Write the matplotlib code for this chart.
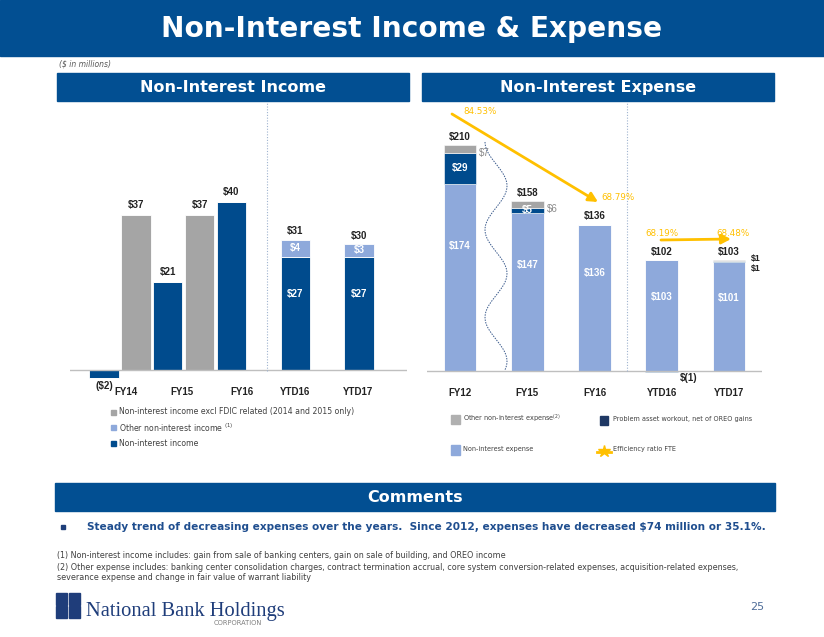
import numpy as np
import matplotlib
matplotlib.use("Agg")
import matplotlib.pyplot as plt
from matplotlib.patches import Rectangle

W, H = 824, 637

# ---- data: non-interest income ($ millions)
inc_cats = ["FY14", "FY15", "FY16", "YTD16", "YTD17"]
inc_main = [-2, 21, 40, 27, 27]                    # Non-interest income
inc_other = [0, 0, 0, 4, 3]                        # Other non-interest income (1)
inc_excl_fdic = [37, 37, np.nan, np.nan, np.nan]   # excl FDIC related (2014/2015)

# ---- data: non-interest expense ($ millions)
exp_cats = ["FY12", "FY15", "FY16", "YTD16", "YTD17"]
exp_base = [174, 147, 136, 103, 101]   # Non-interest expense
exp_problem = [29, 5, 0, -1, 1]        # Problem asset workout, net of OREO gains
exp_other = [7, 6, 0, 0, 1]            # Other non-interest expense (2)
exp_total = [210, 158, 136, 102, 103]
eff_ratio = [84.53, np.nan, 68.79, 68.19, 68.48]   # Efficiency ratio FTE (%)

BLUE = "#024F92"
DARK = "#004B8D"
LIGHT = "#8EA9DB"
GREY = "#A5A5A5"
GOLD = "#FFC000"
TXT = "#404040"

plt.rcParams["font.family"] = ["DejaVu Sans"]
fig = plt.figure(figsize=(W / 100, H / 100), dpi=100)


def px_box(x0, y0, x1, y1):
    return [x0 / W, 1 - y1 / H, (x1 - x0) / W, (y1 - y0) / H]


lab = dict(family="Liberation Sans", fontweight="bold", fontsize=7)

# ---------------- left chart
axl = fig.add_axes(px_box(70, 100, 407, 385))
axl.patch.set_alpha(0)
xl = np.arange(len(inc_cats))
bw = 0.46
main = np.array(inc_main)
other = np.array(inc_other)
axl.bar(xl, main, bw, color=DARK, edgecolor="white", linewidth=0.6)
axl.bar(xl, other, bw, bottom=main, color=LIGHT, edgecolor="white", linewidth=0.6)
axl.bar(xl + 0.5, inc_excl_fdic, bw, color=GREY, edgecolor="white", linewidth=0.6)
for i in range(len(inc_cats)):
    if other[i] > 0:
        axl.annotate(f"${main[i] + other[i]}", (xl[i], main[i] + other[i]), xytext=(0, 2.5),
                     textcoords="offset points", ha="center", va="bottom", color="#222222", **lab)
        axl.text(xl[i], main[i] + other[i] / 2, f"${other[i]}", ha="center", va="center", color="white", **lab)
        axl.text(xl[i], main[i] * 0.67, f"${main[i]}", ha="center", va="center", color="white", **lab)
    elif main[i] < 0:
        axl.annotate(f"(${-main[i]})", (xl[i], main[i]), xytext=(0, -2),
                     textcoords="offset points", ha="center", va="top", color="#222222", **lab)
    else:
        axl.annotate(f"${main[i]}", (xl[i], main[i]), xytext=(0, 3.5),
                     textcoords="offset points", ha="center", va="bottom", color="#222222", **lab)
    if not np.isnan(inc_excl_fdic[i]):
        axl.annotate(f"${inc_excl_fdic[i]:.0f}", (xl[i] + 0.5, inc_excl_fdic[i]), xytext=(0, 3.5),
                     textcoords="offset points", ha="center", va="bottom", color="#222222", **lab)
axl.axhline(0, color="#BFBFBF", lw=1)
axl.axvline(2.56, ymin=0.05, ymax=0.99, color="#9FB3CF", lw=0.8, ls=(0, (1, 1.5)))
axl.set_xlim(-0.533, 4.753)
axl.set_ylim(-15 / 4.2, 270 / 4.2)
axl.set_xticks([0.35, 1.22, 2.16, 3.0, 3.98], inc_cats)
axl.tick_params(length=0, pad=1.5, labelcolor="#222222")
for t in axl.get_xticklabels():
    t.set_fontproperties(matplotlib.font_manager.FontProperties(family="Liberation Sans", weight="bold", size=7))
axl.set_yticks([])
for s in axl.spines.values():
    s.set_visible(False)

# ---------------- right chart
axr = fig.add_axes(px_box(427, 100, 762, 385))
axr.patch.set_alpha(0)
xr = np.arange(len(exp_cats))
bw = 0.49
base = np.array(exp_base)
prob = np.array(exp_problem)
oth = np.array(exp_other)
axr.bar(xr, base, bw, color=LIGHT, edgecolor="white", linewidth=0.6)
pb = np.where(prob >= 0, base, 0)
axr.bar(xr, prob, bw, bottom=pb, color=DARK, edgecolor="white", linewidth=0.4)
ob = base + np.maximum(prob, 0)
axr.bar(xr, oth, bw, bottom=ob, color=GREY, edgecolor="white", linewidth=0.4)
for i in range(len(exp_cats)):
    top = base[i] + max(prob[i], 0) + oth[i]
    axr.annotate(f"${exp_total[i]}", (xr[i], top), xytext=(0, 2.5),
                 textcoords="offset points", ha="center", va="bottom", color="#222222", **lab)
    axr.text(xr[i], base[i] * 0.67, f"${base[i]}", ha="center", va="center", color="white", **lab)
    if prob[i] >= 3:
        axr.text(xr[i], base[i] + prob[i] / 2, f"${prob[i]}", ha="center", va="center", color="white", **lab)
    if oth[i] >= 3:
        axr.annotate(f"${oth[i]}", (xr[i] + bw / 2, ob[i] + oth[i] / 2), xytext=(2, -3),
                     textcoords="offset points", ha="left", va="center", color="#8C8C8C",
                     family="Liberation Sans", fontsize=7)
small = dict(family="Liberation Sans", fontweight="bold", fontsize=6.3)
axr.annotate(f"${oth[4]}", (xr[4] + bw / 2, ob[4] + oth[4] / 2), xytext=(4, 1.5),
             textcoords="offset points", ha="left", va="center", color="#222222", **small)
axr.annotate(f"${prob[4]}", (xr[4] + bw / 2, pb[4] + prob[4] / 2), xytext=(4, -4.5),
             textcoords="offset points", ha="left", va="center", color="#222222", **small)
axr.annotate(f"$({-prob[3]})", (xr[3] + bw / 2, prob[3]), xytext=(1, -1),
             textcoords="offset points", ha="left", va="top", color="#222222", **lab)
axr.axhline(0, color="#BFBFBF", lw=1)
axr.axvline(2.48, ymin=0.05, ymax=0.99, color="#9FB3CF", lw=0.8, ls=(0, (1, 1.5)))
axr.set_xlim(-0.491, 4.491)
axr.set_ylim(-14 / 1.075, 271 / 1.075)
axr.set_xticks(xr, exp_cats)
axr.tick_params(length=0, pad=2.5, labelcolor="#222222")
for t in axr.get_xticklabels():
    t.set_fontproperties(matplotlib.font_manager.FontProperties(family="Liberation Sans", weight="bold", size=7))
axr.set_yticks([])
for s in axr.spines.values():
    s.set_visible(False)

# ---------------- overlay in pixel coordinates
ov = fig.add_axes([0, 0, 1, 1])
ov.set_xlim(0, W)
ov.set_ylim(H, 0)
ov.axis("off")
ov.patch.set_alpha(0)

ov.add_patch(Rectangle((0, 0), W, 56, color=BLUE))
ov.text(412, 29, "Non-Interest Income & Expense", color="white", fontsize=20.2,
        fontweight="bold", ha="center", va="center")
ov.text(59, 64, "($ in millions)", style="italic", fontsize=5.5, color="#595959", va="center")
for x0, x1, title in [(57, 409, "Non-Interest Income"), (422, 774, "Non-Interest Expense")]:
    ov.add_patch(Rectangle((x0, 73), x1 - x0, 28, color=BLUE))
    ov.text((x0 + x1) / 2, 87.5, title, color="white", fontsize=11.5, fontweight="bold",
            ha="center", va="center")

# efficiency ratio arrows
arrow = dict(arrowstyle="-|>,head_length=0.55,head_width=0.28", color=GOLD, lw=2, shrinkA=0, shrinkB=0)
ov.annotate("", xy=(598, 202), xytext=(452, 114), arrowprops=arrow)
ov.annotate("", xy=(731, 239), xytext=(661, 240), arrowprops=arrow)
eff_pos = {0: (463, 112), 2: (601, 197), 3: (645, 234), 4: (716, 233)}
for i, (x, y) in eff_pos.items():
    ov.text(x, y, f"{eff_ratio[i]:.2f}%", color=GOLD, fontsize=6.3, ha="left", va="center")

# wavy break line between FY12 and FY15
yy = np.linspace(142, 370, 200)
ov.plot(496 + 11 * np.sin((yy - 142) / 228 * 2.6 * 2 * np.pi - np.pi / 2), yy,
        color="#3A5A8C", lw=0.7, ls=(0, (1.5, 1.2)))

# left legend
for k, (c, t) in enumerate([(GREY, "Non-interest income excl FDIC related (2014 and 2015 only)"),
                            (LIGHT, "Other non-interest income $^{(1)}$"),
                            (DARK, "Non-interest income")]):
    y = 412 + 15.5 * k
    ov.add_patch(Rectangle((111, y - 2.5), 5, 5, color=c))
    ov.text(119, y, t, fontsize=5.6, color=TXT, va="center")

# right legend
ov.add_patch(Rectangle((451, 415), 9, 9, color="#B0B0B0"))
ov.text(463, 418.5, "Other non-interest expense$^{(2)}$", fontsize=4.7, color=TXT, va="center")
ov.add_patch(Rectangle((600, 416), 8, 9, color="#1F3864"))
ov.text(613, 419, "Problem asset workout, net of OREO gains", fontsize=4.7, color=TXT, va="center")
ov.add_patch(Rectangle((451, 445), 9, 10, color=LIGHT))
ov.text(463, 449.5, "Non-interest expense", fontsize=4.7, color=TXT, va="center")
ov.plot([597, 611], [452, 452], color=GOLD, lw=2)
ov.plot([604], [451], marker="*", ms=9, color=GOLD)
ov.text(613, 449.5, "Efficiency ratio FTE", fontsize=4.7, color=TXT, va="center")

# comments
ov.add_patch(Rectangle((55, 483), 720, 28, color=BLUE))
ov.text(415, 497, "Comments", color="white", fontsize=11.5, fontweight="bold", ha="center", va="center")
ov.add_patch(Rectangle((61, 524.5), 4, 4, color="#1F3E7A"))
ov.text(87, 527, "Steady trend of decreasing expenses over the years.  Since 2012, expenses have "
        "decreased $74 million or 35.1%.", fontsize=7.55, fontweight="bold", color="#1F4E8F", va="center")
ov.text(57, 556, "(1) Non-interest income includes: gain from sale of banking centers, gain on sale of "
        "building, and OREO income", fontsize=5.75, color=TXT, va="center")
ov.text(57, 567, "(2) Other expense includes: banking center consolidation charges, contract termination "
        "accrual, core system conversion-related expenses, acquisition-related expenses,",
        fontsize=5.75, color=TXT, va="center")
ov.text(57, 577.5, "severance expense and change in fair value of warrant liability", fontsize=5.75,
        color=TXT, va="center")

# logo
for dx in (0, 13):
    for dy in (0, 13):
        ov.add_patch(Rectangle((56 + dx, 593 + dy), 11.5, 11.5, color="#1F3D7A"))
ov.text(86, 616, "National Bank Holdings", family="Liberation Serif", fontsize=14.8,
        color="#1F3D7A", va="baseline")
ov.text(238, 623, "CORPORATION", fontsize=4.8, color="#7F7F7F", ha="center", va="center")
ov.text(757, 607, "25", fontsize=8, color="#4F6D99", ha="center", va="center")

fig.savefig("out.png", dpi=100)
